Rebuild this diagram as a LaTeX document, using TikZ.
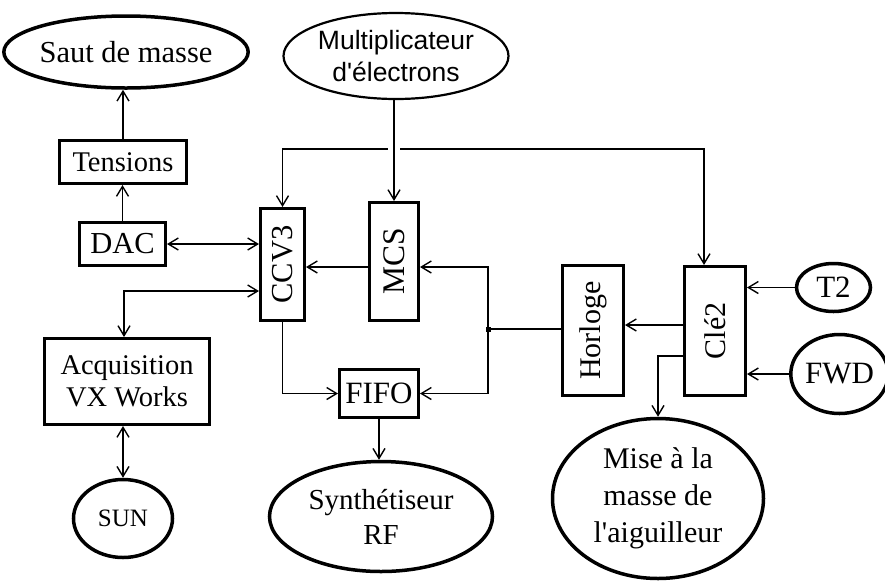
\documentclass[tikz,border=0pt]{standalone}
\usepackage{graphicx}
\usepackage{fontspec}
\setmainfont{Liberation Serif}[Ligatures=TeXOff]
\newfontfamily\arialf{Liberation Sans}[Ligatures=TeXOff]
\usetikzlibrary{arrows.meta,shapes.geometric,calc}
\begin{document}
\begin{tikzpicture}[x=1pt,y=-1pt,
  box/.style={draw, line width=3pt, rectangle, inner sep=0pt},
  oval/.style={draw, line width=3.5pt, ellipse, inner sep=0pt},
  conn/.style={line width=1.4pt},
  >={Straight Barb[length=10pt,width=12pt]},
  junction/.style={rectangle, fill, inner sep=0pt, minimum size=5pt}]
\useasboundingbox (0,0) rectangle (885,582);
\fill[white] (0,0) rectangle (885,582);

% nodes
\node[oval, minimum width=224, minimum height=72, font=\fontsize{30.5}{36}\selectfont] (saut) at (126,52) {Saut de masse};
\node[oval, line width=2.2pt, minimum width=225, minimum height=86, align=center, font=\arialf\fontsize{26.5}{32}\selectfont] (mult) at (396,56) {Multiplicateur\\d'électrons};
\node[box, minimum width=127, minimum height=43, font=\fontsize{28.5}{34}\selectfont] (tens) at (123,162) {Tensions};
\node[box, minimum width=86, minimum height=43, font=\fontsize{30.5}{36}\selectfont] (dac) at (122.5,244) {DAC};
\node[box, minimum width=44, minimum height=112, font=\fontsize{30.5}{36}\selectfont] (ccv) at (282.5,264.5) {\rotatebox{90}{CCV3}};
\node[box, minimum width=49, minimum height=118, font=\fontsize{31.5}{36}\selectfont] (mcs) at (394,261.5) {\rotatebox{90}{MCS}};
\node[box, minimum width=61, minimum height=130, font=\fontsize{30}{36}\selectfont] (hor) at (593,330.5) {\rotatebox{90}{Horloge}};
\node[box, minimum width=61, minimum height=129, font=\fontsize{30}{36}\selectfont] (cle) at (715,331) {\rotatebox{90}{Clé2}};
\node[oval, minimum width=74, minimum height=48, font=\fontsize{31}{36}\selectfont] (t2) at (833.5,287.5) {T2};
\node[oval, minimum width=84, minimum height=79, font=\fontsize{31}{36}\selectfont] (fwd) at (839.5,374) {FWD};
\node[box, minimum width=165, minimum height=86, align=center, font=\fontsize{28.5}{32}\selectfont] (acq) at (127,381.5) {Acquisition\\VX Works};
\node[oval, minimum width=99, minimum height=78, font=\fontsize{25}{30}\selectfont] (sun) at (123,518.5) {SUN};
\node[box, minimum width=79, minimum height=48, font=\fontsize{31}{36}\selectfont] (fifo) at (379,393.5) {FIFO};
\node[oval, minimum width=223, minimum height=110, align=center, font=\fontsize{29}{35}\selectfont] (synth) at (381,516.5) {Synthétiseur\\RF};
\node[oval, minimum width=211, minimum height=160, align=center, font=\fontsize{30}{37}\selectfont] (mise) at (658,498.5) {Mise à la\\masse de\\l'aiguilleur};
\node[junction] (j) at (488,329) {};

% routing levels
\coordinate (busy) at (0,149);
\coordinate (ymcs) at (0,267);
\coordinate (yacq) at (0,291);
\coordinate (yhor) at (0,325);
\coordinate (ymise) at (0,356);

% connectors
\draw[conn,->] (dac.north) -- (dac.north |- tens.south);
\draw[conn,->] (tens.north) -- (tens.north |- saut.south);
\draw[conn,->] (mult.south -| mcs.north) -- (mcs.north);
\draw[conn,<-] (ccv.north) |- ($(mcs.north |- busy)+(-6,0)$);
\draw[conn,<-] ([xshift=-11pt]cle.north) |- ($(mcs.north |- busy)+(6,0)$);
\draw[conn,<->] (dac.east) -- (dac.east -| ccv.west);
\draw[conn,->] (mcs.west |- ymcs) -- (ccv.east |- ymcs);
\draw[conn,<->] (ccv.west |- yacq) -| ([xshift=-3pt]acq.north);
\draw[conn,<->] (acq.south -| sun.north) -- (sun.north);
\draw[conn,->] (ccv.south) |- (fifo.west);
\draw[conn,->] (fifo.south) -- (fifo.south |- synth.north);
\draw[conn] (hor.west |- j.center) -- (j.center);
\draw[conn,->] (j.center) |- (mcs.east |- ymcs);
\draw[conn,->] (j.center) |- (fifo.east);
\draw[conn,->] (cle.west |- yhor) -- (hor.east |- yhor);
\draw[conn,->] (cle.west |- ymise) -| (mise.north);
\draw[conn,->] (t2.west) -- (t2.west -| cle.east);
\draw[conn,->] (fwd.west) -- (fwd.west -| cle.east);
\end{tikzpicture}
\end{document}
